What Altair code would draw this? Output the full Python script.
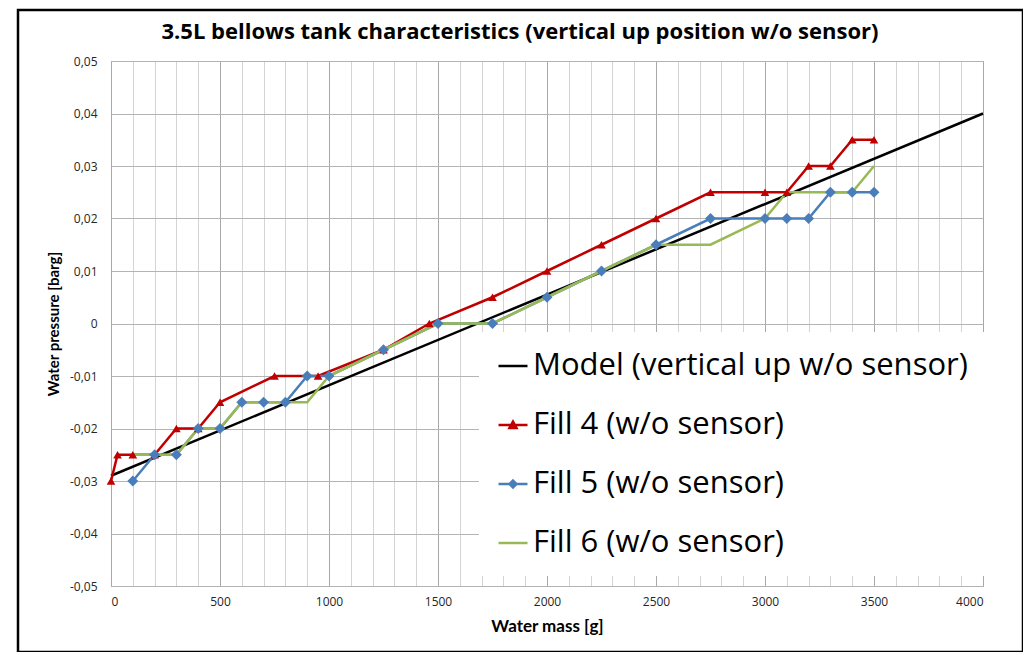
import altair as alt
import pandas as pd

# ---------------- data ----------------
title_text = ["3.5L bellows tank characteristics (vertical up position w/o sensor)"]

series_names = [
    "Model (vertical up w/o sensor)",
    "Fill 4 (w/o sensor)",
    "Fill 5 (w/o sensor)",
    "Fill 6 (w/o sensor)",
]
series_colors = ["#000000", "#c00000", "#4a7ebb", "#98b954"]

model_x = [0, 4000]
model_y = [-0.029, 0.040]

fill4_x = [0, 30, 100, 200, 300, 400, 500, 750, 950, 1250, 1460, 1750, 2000,
           2250, 2500, 2750, 3000, 3100, 3200, 3300, 3400, 3500]
fill4_y = [-0.030, -0.025, -0.025, -0.025, -0.020, -0.020, -0.015, -0.010, -0.010,
           -0.005, 0.000, 0.005, 0.010, 0.015, 0.020, 0.025, 0.025, 0.025,
           0.030, 0.030, 0.035, 0.035]

fill5_x = [100, 200, 300, 400, 500, 600, 700, 800, 900, 1000, 1250, 1500, 1750,
           2000, 2250, 2500, 2750, 3000, 3100, 3200, 3300, 3400, 3500]
fill5_y = [-0.030, -0.025, -0.025, -0.020, -0.020, -0.015, -0.015, -0.015, -0.010,
           -0.010, -0.005, 0.000, 0.000, 0.005, 0.010, 0.015, 0.020, 0.020,
           0.020, 0.020, 0.025, 0.025, 0.025]

fill6_x = [100, 200, 300, 400, 500, 600, 700, 800, 900, 1000, 1250, 1500, 1750,
           2000, 2250, 2500, 2750, 3000, 3100, 3200, 3300, 3400, 3500]
fill6_y = [-0.025, -0.025, -0.025, -0.020, -0.020, -0.015, -0.015, -0.015, -0.015,
           -0.010, -0.005, 0.000, 0.000, 0.005, 0.010, 0.015, 0.015, 0.020,
           0.025, 0.025, 0.025, 0.025, 0.030]

x_grid_values = list(range(0, 4001, 100))
y_tick_values = [-0.05, -0.04, -0.03, -0.02, -0.01, 0.0, 0.01, 0.02, 0.03, 0.04, 0.05]

legend_paths = [
    "M-1,0L1,0",
    "M-1,0L1,0M-0.24,0.2L0,-0.24L0.24,0.2Z",
    "M-1,0L1,0M0,-0.24L0.24,0L0,0.24L-0.24,0Z",
    "M-1,0L1,0",
]

rows = []
for name, xs, ys in zip(series_names,
                        [model_x, fill4_x, fill5_x, fill6_x],
                        [model_y, fill4_y, fill5_y, fill6_y]):
    for xv, yv in zip(xs, ys):
        rows.append({"series": name, "mass": xv, "pressure": yv})
df = pd.DataFrame(rows)

# ---------------- encodings ----------------
X = alt.X(
    "mass:Q",
    scale=alt.Scale(domain=[0, 4000], nice=False, zero=False),
    axis=alt.Axis(
        values=x_grid_values,
        labelExpr="datum.value % 500 == 0 ? datum.label : ''",
        format="d",
        gridColor={"condition": {"test": "datum.value % 500 == 0", "value": "#a8a8a8"},
                   "value": "#d4d4d4"},
        title="Water mass [g]",
        titleFontSize=17,
        labelPadding=10,
        titlePadding=11,
    ),
)
Y = alt.Y(
    "pressure:Q",
    scale=alt.Scale(domain=[-0.05, 0.05], nice=False, zero=False),
    axis=alt.Axis(
        values=y_tick_values,
        labelExpr="datum.value == 0 ? '0' : (datum.value < 0 ? '-' : '') + replace(format(abs(datum.value), '.2f'), '.', ',')",
        gridColor="#b4b4b4",
        title="Water pressure [barg]",
        titleFontSize=15,
        labelPadding=14,
        titlePadding=8,
    ),
)

# line colour scale: same pairs, listed in another order so that its
# (hidden) legend is not merged with the visible one
line_color_scale = alt.Scale(domain=series_names[::-1], range=series_colors[::-1])

frame = alt.Chart(pd.DataFrame({"a": [0]})).mark_rect(
    fill="white", fillOpacity=0, stroke="black", strokeWidth=2.5
).encode(
    x=alt.value(-93), x2=alt.value(912), y=alt.value(-51), y2=alt.value(591)
)

title = alt.Chart(pd.DataFrame({"t": title_text})).mark_text(
    font="Open Sans", fontSize=22, fontWeight="bold", color="black",
    align="center", baseline="middle"
).encode(
    x=alt.value(409), y=alt.value(-29), text="t:N"
)

lines = alt.Chart(df).mark_line(strokeWidth=2.5).encode(
    x=X, y=Y,
    color=alt.Color("series:N", scale=line_color_scale, legend=None),
    order=alt.Order("mass:Q"),
)

tri = alt.Chart(df).transform_filter(
    alt.datum.series == series_names[1]
).mark_point(shape="triangle-up", filled=True, size=75, opacity=1, color=series_colors[1]).encode(
    x=X, y=Y
)

dia = alt.Chart(df).transform_filter(
    alt.datum.series == series_names[2]
).mark_point(shape="diamond", filled=True, size=120, opacity=1, color=series_colors[2]).encode(
    x=X, y=Y
)

legend = alt.Legend(
    title=None,
    orient="none",
    legendX=368,
    legendY=271,
    fillColor="white",
    padding=18,
    labelFont="Open Sans",
    labelFontSize=31,
    labelColor="black",
    labelOffset=4,
    symbolSize=841,
    symbolStrokeWidth=2.5,
    symbolOpacity=1,
    rowPadding=28,
    labelLimit=600,
)

legend_layer = alt.Chart(df).mark_point(
    filled=True, opacity=0, strokeWidth=2.5
).encode(
    x=X, y=Y,
    fill=alt.Fill("series:N", scale=alt.Scale(domain=series_names, range=series_colors), legend=legend),
    stroke=alt.Stroke("series:N", scale=alt.Scale(domain=series_names, range=series_colors), legend=legend),
    shape=alt.Shape("series:N", scale=alt.Scale(domain=series_names, range=legend_paths), legend=legend),
)

chart = alt.layer(frame, lines, tri, dia, legend_layer, title).properties(
    width=872,
    height=525,
    background="white",
    autosize=alt.AutoSizeParams(type="none"),
    padding={"left": 103, "top": 53, "right": 40, "bottom": 66},
).configure_view(
    stroke="#a0a0a0", strokeWidth=1
).configure_axis(
    domain=False, ticks=False,
    labelFont="Open Sans", labelFontSize=12, labelColor="#262626",
    titleFont="Lato", titleFontWeight="bold", titleColor="black",
    gridWidth=1,
)

chart.save("out.html", embed_options={"renderer": "svg", "actions": False})
